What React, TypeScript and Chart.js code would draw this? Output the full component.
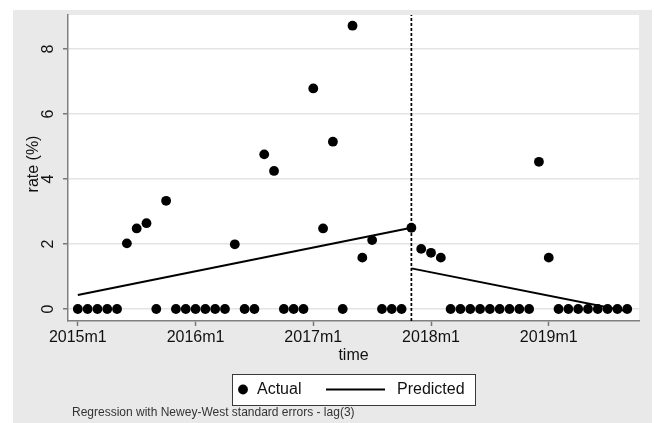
import React, { useEffect, useRef } from 'react';
import { Chart, registerables } from 'chart.js';

Chart.register(...registerables);

const FONT = "'Liberation Sans', Arial, sans-serif";
const TEXT = '#111111';

// x positions are month indices (0 = 2015m1)
const tickMonths = [0, 12, 24, 36, 48];
const tickLabels = ['2015m1', '2016m1', '2017m1', '2018m1', '2019m1'];
const yTicks = [0, 2, 4, 6, 8];

// Actual rate (%) for 2015m1 .. 2019m9
const rates = [
  0, 0, 0, 0, 0, 2.02, 2.48, 2.64, 0, 3.33, 0, 0,
  0, 0, 0, 0, 1.99, 0, 0, 4.76, 4.25, 0, 0, 0,
  6.79, 2.48, 5.15, 0, 8.72, 1.58, 2.12, 0, 0, 0, 2.5, 1.85,
  1.73, 1.58, 0, 0, 0, 0, 0, 0, 0, 0, 0, 4.53,
  1.58, 0, 0, 0, 0, 0, 0, 0, 0,
];

// Predicted segments (start / end values)
const predPreMonths = [0, 34];
const predPreValues = [0.43, 2.5];
const predPostMonths = [34, 56];
const predPostValues = [1.25, -0.07];

const interventionMonth = 34;
const xMin = -1;
const xMax = 57.2;
const yMin = -0.37;
const yMax = 9.05;

const footnote = 'Regression with Newey-West standard errors - lag(3)';

const decoPlugin = {
  id: 'deco',
  beforeDraw(chart: any) {
    const { ctx, chartArea: a } = chart;
    ctx.save();
    ctx.fillStyle = '#ffffff';
    ctx.fillRect(0, 0, chart.width, chart.height);
    ctx.fillStyle = '#e9e9e9';
    ctx.fillRect(13, 10, chart.width - 15, chart.height - 10);
    ctx.fillStyle = '#ffffff';
    ctx.fillRect(a.left, a.top, a.right - a.left, a.bottom - a.top);
    ctx.restore();
  },
  afterDraw(chart: any) {
    const { ctx, chartArea: a } = chart;
    const ys = chart.scales.y;
    ctx.save();
    ctx.fillStyle = TEXT;
    ctx.font = `16px ${FONT}`;
    ctx.textAlign = 'center';
    ctx.textBaseline = 'middle';
    ys.ticks.forEach((t: any) => {
      const py = ys.getPixelForValue(t.value);
      ctx.save();
      ctx.translate(a.left - 19, py);
      ctx.rotate(-Math.PI / 2);
      ctx.fillText(String(t.value), 0, 0);
      ctx.restore();
    });
    ctx.save();
    ctx.translate(34, (a.top + a.bottom) / 2 - 4);
    ctx.rotate(-Math.PI / 2);
    ctx.fillText('rate (%)', 0, 0);
    ctx.restore();

    // legend
    const ds = chart.data.datasets;
    ctx.fillStyle = '#ffffff';
    ctx.fillRect(232, 374, 243, 31);
    ctx.strokeStyle = '#3a3a3a';
    ctx.lineWidth = 1;
    ctx.strokeRect(232.5, 374.5, 243, 31);
    ctx.fillStyle = '#000000';
    ctx.beginPath();
    ctx.arc(243, 389.5, 4.9, 0, Math.PI * 2);
    ctx.fill();
    ctx.strokeStyle = '#000000';
    ctx.lineWidth = 2;
    ctx.beginPath();
    ctx.moveTo(326, 389.5);
    ctx.lineTo(385, 389.5);
    ctx.stroke();
    ctx.fillStyle = TEXT;
    ctx.textAlign = 'left';
    ctx.fillText(ds[0].label, 257, 390);
    ctx.fillText(ds[1].label, 397, 390);

    // footnote
    ctx.fillStyle = '#333333';
    ctx.font = `12px ${FONT}`;
    ctx.fillText(footnote, 72, 413);
    ctx.restore();
  },
};

export default function App() {
  const ref = useRef<HTMLCanvasElement | null>(null);
  useEffect(() => {
    if (!ref.current) return;
    const chart = new Chart(ref.current, {
      type: 'scatter',
      data: {
        datasets: [
          {
            label: 'Actual',
            data: rates.map((v, i) => ({ x: i, y: v })),
            backgroundColor: '#000000',
            borderColor: '#000000',
            pointRadius: 4.9,
            pointBorderWidth: 0,
            showLine: false,
          },
          {
            label: 'Predicted',
            data: predPreMonths.map((m, i) => ({ x: m, y: predPreValues[i] })),
            borderColor: '#000000',
            borderWidth: 2,
            pointRadius: 0,
            showLine: true,
          },
          {
            label: 'Predicted post',
            data: predPostMonths.map((m, i) => ({ x: m, y: predPostValues[i] })),
            borderColor: '#000000',
            borderWidth: 2,
            pointRadius: 0,
            showLine: true,
          },
          {
            label: 'Intervention',
            data: [
              { x: interventionMonth, y: yMin },
              { x: interventionMonth, y: yMax },
            ],
            borderColor: '#000000',
            borderWidth: 1.7,
            borderDash: [3, 2],
            pointRadius: 0,
            showLine: true,
          },
        ],
      },
      options: {
        animation: false,
        responsive: false,
        layout: { padding: { left: 0, right: 15, top: 15, bottom: 0 } },
        plugins: { legend: { display: false }, tooltip: { enabled: false } },
        scales: {
          x: {
            type: 'linear',
            min: xMin,
            max: xMax,
            afterBuildTicks: (s: any) => {
              s.ticks = tickMonths.map((v) => ({ value: v }));
            },
            afterFit: (s: any) => {
              s.height = 102;
            },
            ticks: {
              callback: (v: any) => {
                const i = tickMonths.indexOf(Number(v));
                return i >= 0 ? tickLabels[i] : '';
              },
              font: { family: FONT, size: 16 },
              color: TEXT,
              padding: 2,
              maxRotation: 0,
              autoSkip: false,
            },
            grid: {
              drawOnChartArea: false,
              drawTicks: true,
              tickLength: 5,
              tickColor: '#777777',
              tickWidth: 1.5,
            },
            border: { display: true, color: '#808080', width: 1.5 },
            title: {
              display: true,
              text: 'time',
              font: { family: FONT, size: 16 },
              color: TEXT,
              padding: { top: 0, bottom: 58 },
            },
          },
          y: {
            type: 'linear',
            min: yMin,
            max: yMax,
            afterBuildTicks: (s: any) => {
              s.ticks = yTicks.map((v) => ({ value: v }));
            },
            afterFit: (s: any) => {
              s.width = 68;
            },
            ticks: { display: false },
            grid: {
              color: '#e4e4e4',
              lineWidth: 1.5,
              drawTicks: true,
              tickLength: 5,
              tickColor: '#777777',
              tickWidth: 1.5,
            },
            border: { display: true, color: '#808080', width: 1.5 },
          },
        },
      },
      plugins: [decoPlugin],
    });
    return () => chart.destroy();
  }, []);
  return (
    <div style={{ position: 'fixed', left: 0, top: 0, width: 654, height: 423 }}>
      <canvas ref={ref} width={654} height={423} />
    </div>
  );
}
